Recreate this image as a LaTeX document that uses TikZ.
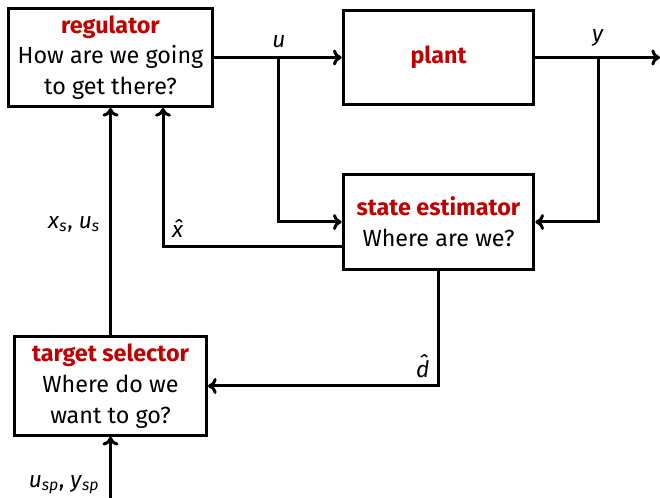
\documentclass[tikz,border=0pt]{standalone}
\usepackage{fontspec}
\setmainfont{Fira Sans}
\usepackage{tikz}
\usetikzlibrary{arrows.meta,positioning}
\definecolor{blockred}{RGB}{190,0,0}
\newcommand{\blocktitle}[1]{{\bfseries\color{blockred}#1}}
\newcommand{\sig}[1]{\textit{#1}}

\begin{document}
\begin{tikzpicture}[x=0.75pt,y=-0.75pt,line width=2.25pt,
    >={Computer Modern Rightarrow[length=6.5pt,width=12pt]},
    block/.style={draw,align=center,inner sep=2pt,
      font=\fontsize{17.5}{23}\selectfont},
    lbl/.style={font=\fontsize{17}{20}\selectfont,inner sep=1pt}]
    \useasboundingbox (0,0) rectangle (660,498);

    \node[block,minimum width=153pt,minimum height=73.5pt] (reg) at (110.5,57.5)
      {\blocktitle{regulator}\\How are we going\\to get there?};
    \node[block,minimum width=143pt,minimum height=71pt] (plant) at (438.5,57.5)
      {\blocktitle{plant}};
    \node[block,minimum width=143pt,minimum height=71pt] (est) at (438.5,222)
      {\blocktitle{state estimator}\\Where are we?};
    \node[block,minimum width=144pt,minimum height=74pt] (tsel) at (110.5,386)
      {\blocktitle{target selector}\\Where do we\\want to go?};

    \coordinate (ubr) at (278,57.5);
    \coordinate (ybr) at (598,57.5);
    \coordinate (yout) at (660,57.5);
    \coordinate (xhat) at (163,247);
    \coordinate (usp) at (110.5,498);

    \draw[->] (reg) -- (plant);
    \draw[->] (plant) -- (yout);
    \draw[->] (ubr) |- (est.west);
    \draw[->] (ybr) |- (est.east);
    \draw[->] (est.west |- xhat) -- (xhat) -- (reg.south -| xhat);
    \draw[->] (est.south) |- (tsel.east);
    \draw[->] (tsel) -- (reg);
    \draw[->] (usp) -- (tsel);

    % signal labels
    \node[lbl] (ulabel) at (279,42) {\sig{u}};
    \node[lbl] (ylabel) at (598,38) {\sig{y}};
    \node[lbl] (xslabel) at (74,224) {\sig{x}\textsubscript{\sig{s}}, \sig{u}\textsubscript{\sig{s}}};
    \node[lbl] (xhatlabel) at (178,229) {\sig{x^^^^0302}};
    \node[lbl] (dhatlabel) at (423,366) {\sig{d^^^^0302}};
    \node[lbl] (usplabel) at (64,485) {\sig{u}\textsubscript{\sig{sp}}, \sig{y}\textsubscript{\sig{sp}}};
\end{tikzpicture}
\end{document}
